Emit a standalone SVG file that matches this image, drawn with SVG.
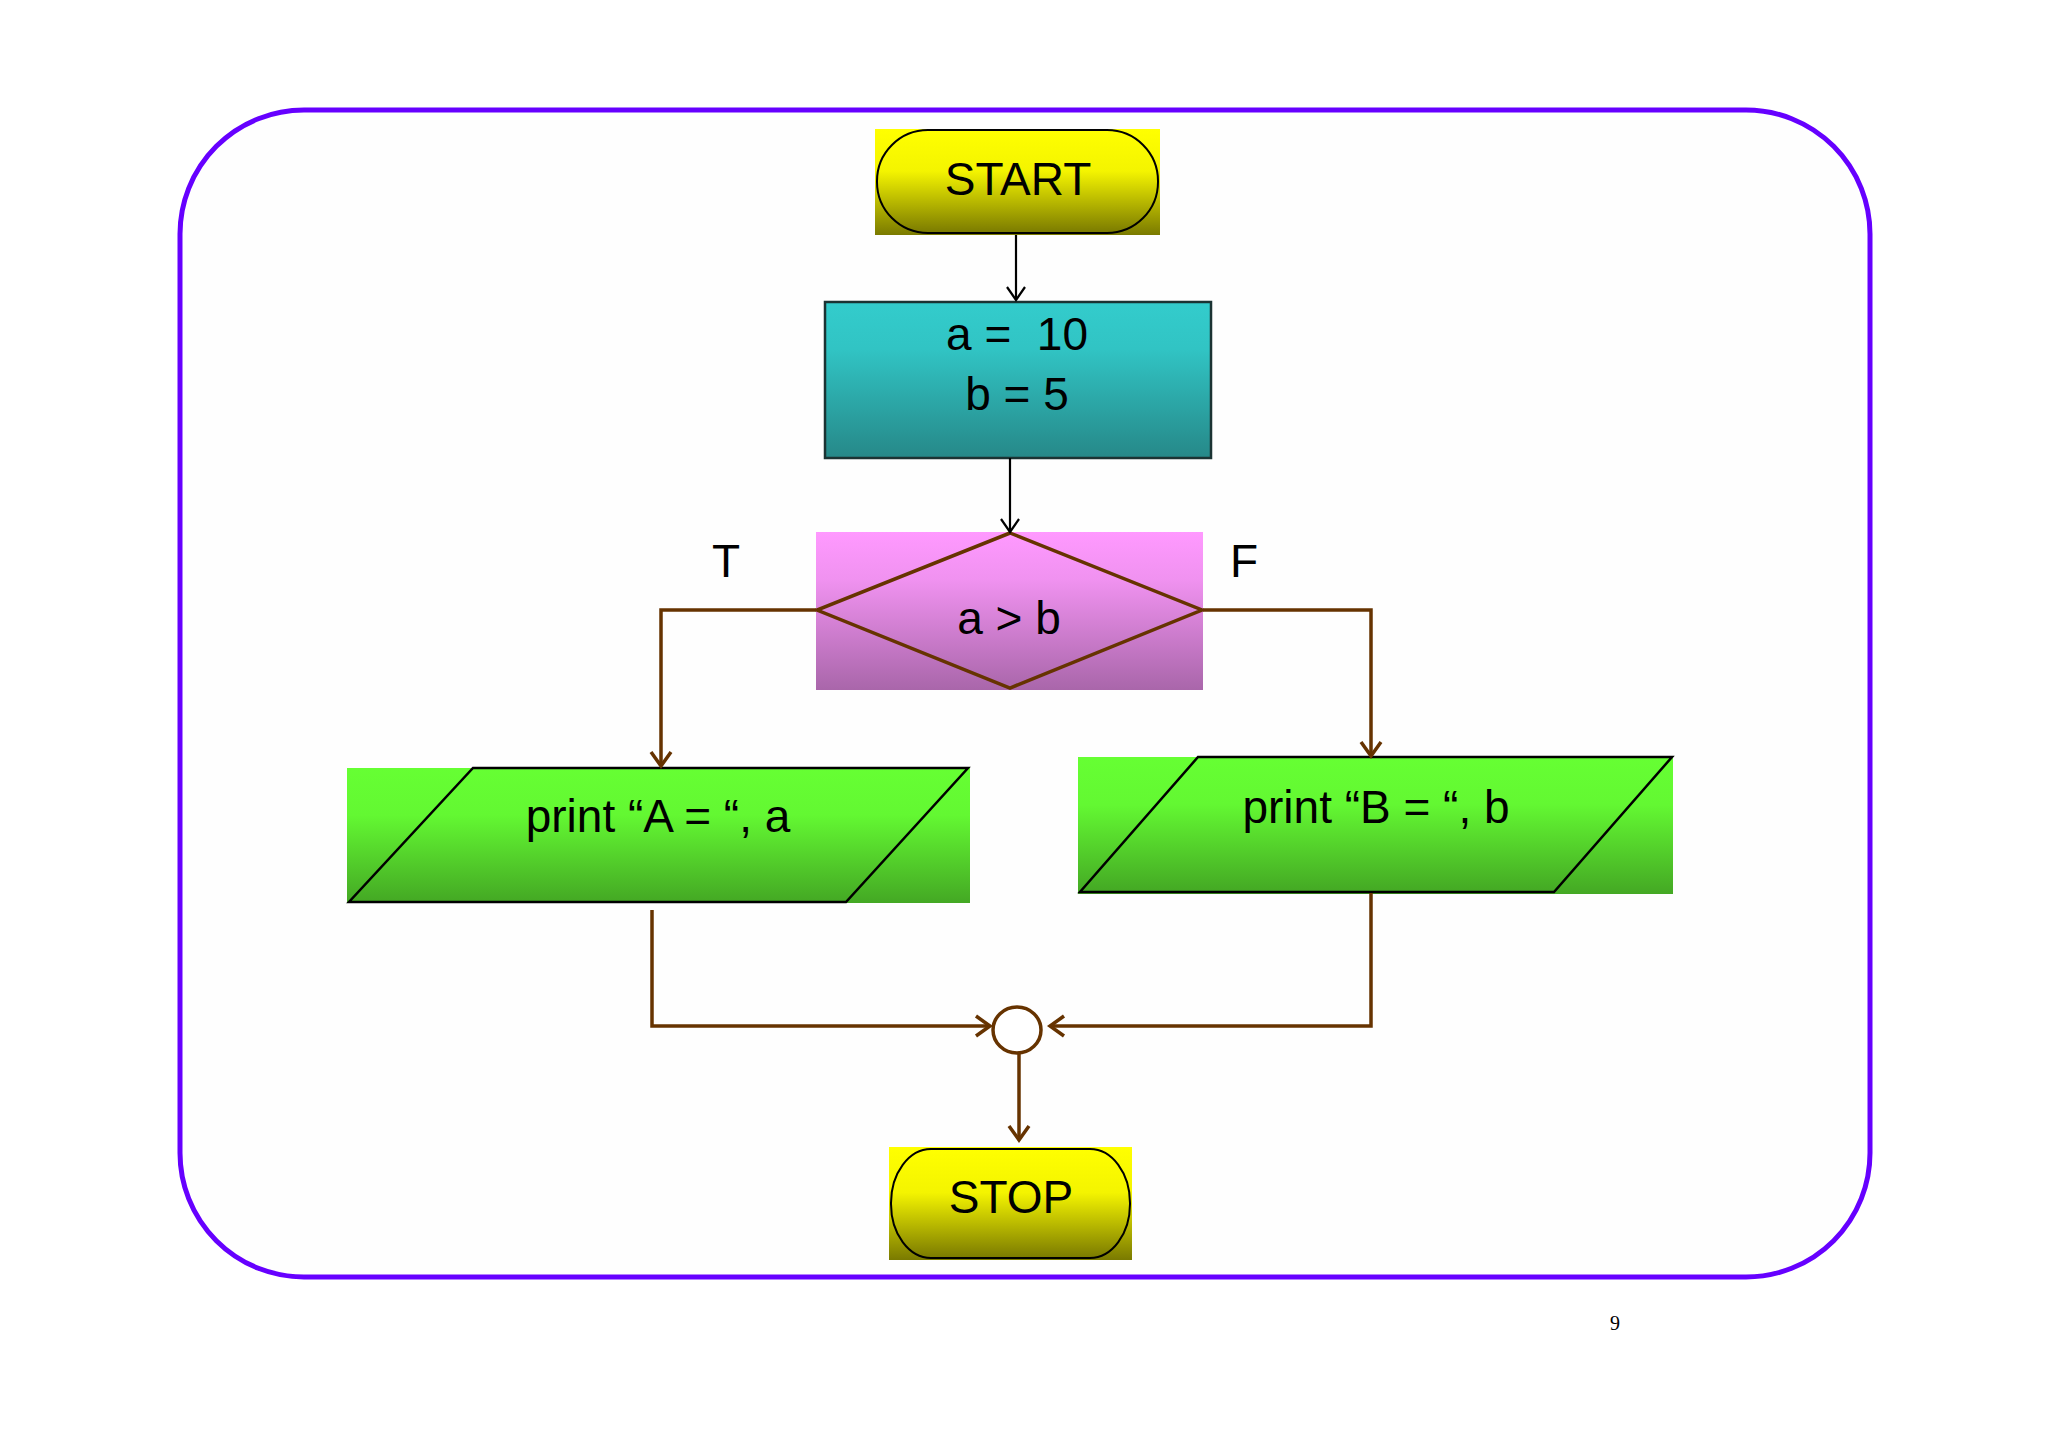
<svg xmlns="http://www.w3.org/2000/svg" width="2048" height="1447" viewBox="0 0 2048 1447">
<defs>
<linearGradient id="gYellow" x1="0" y1="0" x2="0" y2="1">
<stop offset="0" stop-color="#FFFF00"/><stop offset="0.4" stop-color="#F4F400"/><stop offset="1" stop-color="#7A7A00"/>
</linearGradient>
<linearGradient id="gTeal" x1="0" y1="0" x2="0" y2="1">
<stop offset="0" stop-color="#33CCCC"/><stop offset="0.3" stop-color="#31C4C4"/><stop offset="1" stop-color="#268888"/>
</linearGradient>
<linearGradient id="gPink" x1="0" y1="0" x2="0" y2="1">
<stop offset="0" stop-color="#FF99FF"/><stop offset="0.3" stop-color="#F092F0"/><stop offset="1" stop-color="#A966AA"/>
</linearGradient>
<linearGradient id="gGreen" x1="0" y1="0" x2="0" y2="1">
<stop offset="0" stop-color="#66FF33"/><stop offset="0.35" stop-color="#63F832"/><stop offset="1" stop-color="#44A824"/>
</linearGradient>
<marker id="arrBlack" markerUnits="userSpaceOnUse" viewBox="-16 -12 18 24" markerWidth="18" markerHeight="24" refX="0" refY="0" orient="auto" overflow="visible">
<path d="M-13,-9 L0,0 L-13,9" fill="none" stroke="#000000" stroke-width="2.2"/>
</marker>
<marker id="arrBrown" markerUnits="userSpaceOnUse" viewBox="-17 -12 19 24" markerWidth="19" markerHeight="24" refX="0" refY="0" orient="auto" overflow="visible">
<path d="M-14,-10 L0,0 L-14,10" fill="none" stroke="#663300" stroke-width="3.5"/>
</marker>
</defs>
<style>
.lbl{font-family:"Liberation Sans",Arial,sans-serif;font-size:46px;fill:#000000;text-anchor:middle}
.term{fill:url(#gYellow);stroke:#000000;stroke-width:2}
.termbg{fill:url(#gYellow)}
.io{fill:url(#gGreen);stroke:#000000;stroke-width:2.5}
.iobg{fill:url(#gGreen)}
.blk{fill:none;stroke:#000000;stroke-width:2.2;marker-end:url(#arrBlack)}
.brnA{fill:none;stroke:#663300;stroke-width:3.5;marker-end:url(#arrBrown)}
</style>
<rect x="0" y="0" width="2048" height="1447" fill="#FFFFFF"/>
<rect id="frame" x="180" y="110" width="1690" height="1167" rx="124" ry="124" fill="#FEFEFE" stroke="#6600FF" stroke-width="5"/>

<g id="start">
<rect class="termbg" x="875" y="129" width="285" height="106"/>
<rect class="term" x="877" y="130" width="281" height="103" rx="51" ry="51"/>
<text class="lbl" x="1018" y="195">START</text>
</g>

<g id="assign">
<rect x="825" y="302" width="386" height="156" fill="url(#gTeal)" stroke="#1B3333" stroke-width="2.5"/>
<text class="lbl" x="1017" y="350" xml:space="preserve">a =  10</text>
<text class="lbl" x="1017" y="410" xml:space="preserve">b = 5</text>
</g>

<g id="decision">
<rect x="816" y="532" width="387" height="158" fill="url(#gPink)"/>
<polygon points="1010,533 1202,610 1010,688 817,610" fill="none" stroke="#663300" stroke-width="3.5"/>
<text class="lbl" x="1009" y="634">a &gt; b</text>
</g>

<g id="labelT"><text class="lbl" x="726" y="577">T</text></g>
<g id="labelF"><text class="lbl" x="1244" y="577">F</text></g>

<g id="printA">
<rect class="iobg" x="347" y="768" width="623" height="135"/>
<polygon class="io" points="473,768 968,768 846,902 349,902"/>
<text class="lbl" x="658" y="832">print “A = “, a</text>
</g>

<g id="printB">
<rect class="iobg" x="1078" y="757" width="595" height="137"/>
<polygon class="io" points="1198,757 1672,757 1554,892 1080,892"/>
<text class="lbl" x="1376" y="823">print “B = “, b</text>
</g>

<g id="junction">
<ellipse cx="1017" cy="1030" rx="24" ry="23" fill="#FFFFFF" stroke="#663300" stroke-width="3.5"/>
</g>

<g id="stop">
<rect class="termbg" x="889" y="1147" width="243" height="113"/>
<rect class="term" x="891" y="1149" width="239" height="109" rx="40" ry="54"/>
<text class="lbl" x="1011" y="1213">STOP</text>
</g>

<g id="connectors">
<path class="blk" d="M1016,235 L1016,300"/>
<path class="blk" d="M1010,458 L1010,532"/>
<path class="brnA" d="M816,610 L661,610 L661,766"/>
<path class="brnA" d="M1203,610 L1371,610 L1371,756"/>
<path class="brnA" d="M652,910 L652,1026 L990,1026"/>
<path class="brnA" d="M1371,893 L1371,1026 L1050,1026"/>
<path class="brnA" d="M1019,1053 L1019,1140"/>
</g>

<text x="1615" y="1330" font-family="'Liberation Serif','Times New Roman',serif" font-size="20" fill="#000000" text-anchor="middle">9</text>
</svg>
